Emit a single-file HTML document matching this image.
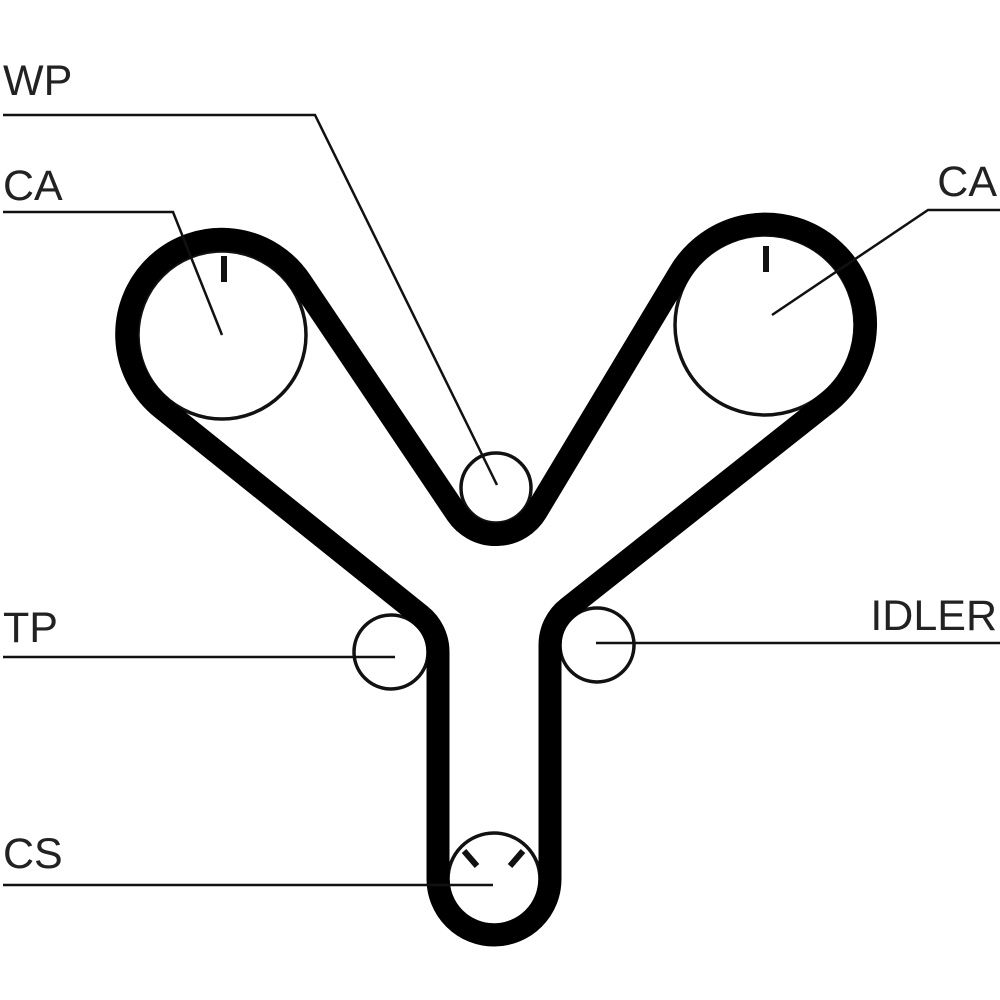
<!DOCTYPE html>
<html><head><meta charset="utf-8"><style>
html,body{margin:0;padding:0;background:#fff;}
svg{display:block;}
text{font-family:"Liberation Sans",sans-serif;font-size:43px;fill:#222;}
</style></head><body>
<svg width="1000" height="1000" viewBox="0 0 1000 1000" xmlns="http://www.w3.org/2000/svg">
<rect width="1000" height="1000" fill="#fff"/>
<g fill="none" stroke="#111">
<circle cx="222" cy="335" r="84" stroke-width="3.5"/>
<circle cx="765" cy="325" r="90" stroke-width="3.5"/>
<circle cx="496" cy="488" r="35" stroke-width="3.5"/>
<circle cx="391" cy="652" r="37" stroke-width="3.5"/>
<circle cx="597" cy="645" r="37" stroke-width="3.5"/>
<circle cx="494" cy="879" r="46" stroke-width="3.5"/>
<path d="M301,282 L457,514 A47 47 0 0 0 536,512 L679,274 A100 100 0 1 1 827,403 L568,608 A47 47 0 0 0 550,645 L550,879 A56 56 0 0 1 438,879 L438,652 A47 47 0 0 0 420,615 L163,409 A95 95 0 1 1 301,282 Z" stroke="#000" stroke-width="23" stroke-linejoin="round"/>
<line x1="224" y1="256" x2="224" y2="282" stroke-width="6"/>
<line x1="766" y1="246" x2="766" y2="272" stroke-width="6"/>
<line x1="464" y1="851" x2="477" y2="866" stroke-width="6"/>
<line x1="523" y1="851" x2="510" y2="866" stroke-width="6"/>
<g stroke-width="2.5">
<polyline points="3,115 315,115 497,485"/>
<polyline points="3,212 173,212 222,335"/>
<polyline points="1000,210 928,210 772,315"/>
<line x1="3" y1="657" x2="395" y2="657"/>
<line x1="1000" y1="643" x2="596" y2="643"/>
<line x1="3" y1="885" x2="493" y2="885"/>
</g>
</g>
<text x="3" y="95">WP</text>
<text x="3" y="200">CA</text>
<text x="997" y="196" text-anchor="end">CA</text>
<text x="3" y="642">TP</text>
<text x="997" y="630" text-anchor="end">IDLER</text>
<text x="3" y="868">CS</text>
</svg>
</body></html>
